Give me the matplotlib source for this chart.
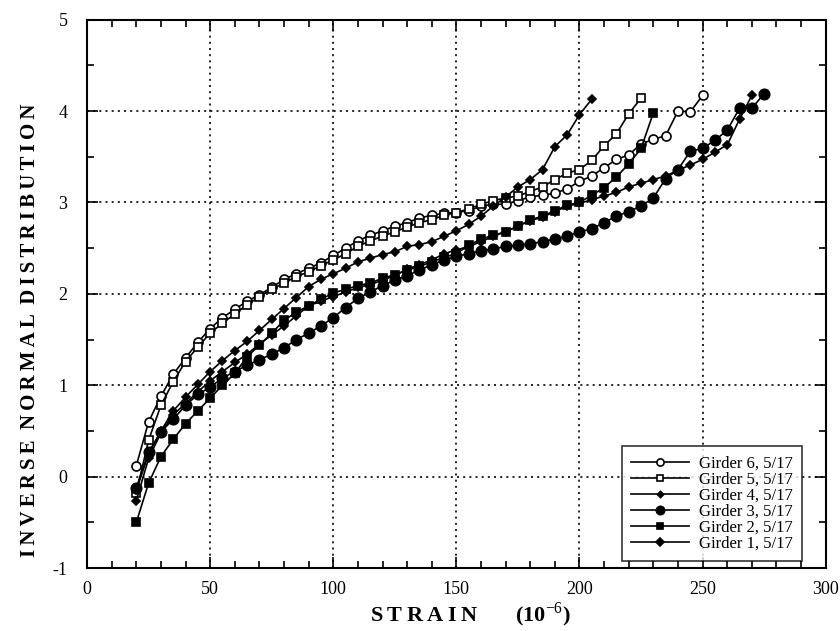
import matplotlib
matplotlib.use("Agg")
import matplotlib.pyplot as plt
import numpy as np
from matplotlib.ticker import MultipleLocator

# strain bins (10^-6), 5-unit steps starting at 20
strain_g6 = np.arange(20, 251, 5)
inv_g6 = [0.12, 0.60, 0.88, 1.12, 1.30, 1.47, 1.62, 1.74, 1.83, 1.92, 1.99,
          2.07, 2.16, 2.22, 2.28, 2.34, 2.42, 2.50, 2.58, 2.64, 2.69, 2.74,
          2.78, 2.83, 2.86, 2.88, 2.89, 2.91, 2.96, 2.98, 2.98, 3.02, 3.06,
          3.08, 3.10, 3.15, 3.23, 3.29, 3.38, 3.47, 3.52, 3.64, 3.69, 3.73,
          4.00, 3.99, 4.17]

strain_g5 = np.arange(20, 226, 5)
inv_g5 = [-0.18, 0.40, 0.78, 1.04, 1.26, 1.42, 1.57, 1.68, 1.78, 1.88, 1.97,
          2.05, 2.12, 2.19, 2.24, 2.31, 2.37, 2.44, 2.52, 2.58, 2.63, 2.68,
          2.73, 2.78, 2.81, 2.86, 2.89, 2.93, 2.98, 3.02, 3.05, 3.07, 3.12,
          3.17, 3.25, 3.32, 3.36, 3.46, 3.62, 3.75, 3.97, 4.14]

strain_g4 = np.arange(20, 206, 5)
inv_g4 = [-0.15, 0.25, 0.50, 0.72, 0.87, 1.01, 1.15, 1.27, 1.38, 1.48, 1.60,
          1.72, 1.84, 1.96, 2.08, 2.16, 2.22, 2.28, 2.35, 2.39, 2.43, 2.46,
          2.52, 2.54, 2.57, 2.63, 2.69, 2.76, 2.85, 2.96, 3.06, 3.17, 3.25,
          3.36, 3.61, 3.74, 3.96, 4.13]

strain_g3 = np.arange(20, 276, 5)
inv_g3 = [-0.12, 0.27, 0.49, 0.63, 0.78, 0.90, 0.98, 1.08, 1.15, 1.22, 1.28,
          1.34, 1.41, 1.50, 1.57, 1.65, 1.74, 1.85, 1.95, 2.02, 2.09, 2.15,
          2.20, 2.26, 2.32, 2.37, 2.41, 2.44, 2.47, 2.49, 2.52, 2.53, 2.55,
          2.57, 2.60, 2.63, 2.68, 2.71, 2.78, 2.85, 2.90, 2.96, 3.05, 3.26,
          3.36, 3.56, 3.59, 3.68, 3.79, 4.03, 4.03, 4.19]

strain_g2 = np.arange(20, 231, 5)
inv_g2 = [-0.50, -0.07, 0.22, 0.41, 0.58, 0.72, 0.86, 1.00, 1.13, 1.31, 1.44,
          1.57, 1.71, 1.80, 1.87, 1.94, 2.01, 2.05, 2.09, 2.12, 2.17, 2.21,
          2.26, 2.30, 2.35, 2.40, 2.44, 2.53, 2.60, 2.64, 2.68, 2.74, 2.81,
          2.85, 2.91, 2.97, 3.00, 3.08, 3.16, 3.28, 3.42, 3.59, 3.98]

strain_g1 = np.arange(20, 271, 5)
inv_g1 = [-0.26, 0.20, 0.48, 0.68, 0.80, 0.93, 1.05, 1.15, 1.25, 1.34, 1.45,
          1.55, 1.65, 1.76, 1.87, 1.92, 1.97, 2.02, 2.07, 2.10, 2.15, 2.20,
          2.27, 2.32, 2.37, 2.44, 2.48, 2.52, 2.57, 2.63, 2.68, 2.74, 2.80,
          2.84, 2.90, 2.96, 2.99, 3.03, 3.07, 3.11, 3.17, 3.21, 3.25, 3.29,
          3.35, 3.41, 3.47, 3.55, 3.63, 3.91, 4.17]

series = [
    ("Girder 6, 5/17", strain_g6, inv_g6, "o", 6.5, "white"),
    ("Girder 5, 5/17", strain_g5, inv_g5, "s", 5.5, "white"),
    ("Girder 4, 5/17", strain_g4, inv_g4, "D", 4.0, "black"),
    ("Girder 3, 5/17", strain_g3, inv_g3, "o", 7.5, "black"),
    ("Girder 2, 5/17", strain_g2, inv_g2, "s", 6.0, "black"),
    ("Girder 1, 5/17", strain_g1, inv_g1, "D", 4.5, "black"),
]

plt.rcParams["font.family"] = ["Liberation Serif", "DejaVu Serif"]
plt.rcParams["axes.unicode_minus"] = False
plt.rcParams["mathtext.fontset"] = "custom"
plt.rcParams["mathtext.rm"] = "Liberation Serif"
plt.rcParams["mathtext.bf"] = "Liberation Serif:bold"


def spaced(text):
    # letter-spaced caps like the original typesetting
    return "\u2009".join(text)


fig = plt.figure(figsize=(8.4, 6.31), dpi=100)
ax = fig.add_axes([0.1036, 0.0995, 0.8794, 0.8695])

for label, x, y, m, ms, fc in series:
    ax.plot(x, y, color="black", lw=1.2, marker=m, ms=ms,
            markerfacecolor=fc, markeredgecolor="black", mew=1.2,
            label=label)

ax.set_xlim(0, 300)
ax.set_ylim(-1, 5)
ax.xaxis.set_major_locator(MultipleLocator(50))
ax.xaxis.set_minor_locator(MultipleLocator(10))
ax.yaxis.set_major_locator(MultipleLocator(1))
ax.yaxis.set_minor_locator(MultipleLocator(0.5))
ax.grid(True, which="major", color="black", linestyle=(0, (1.2, 2.5)), lw=1.2)
ax.tick_params(which="both", direction="in", top=True, right=True,
               labelsize=13, width=1.2)
ax.tick_params(which="major", length=8)
ax.tick_params(axis="x", which="major", pad=9)
ax.tick_params(axis="y", which="major", pad=14)
ax.tick_params(which="minor", length=5)
for s in ax.spines.values():
    s.set_linewidth(1.5)

ax.set_xlabel(spaced("STRAIN") + "       (10$^{-6}$)", fontsize=16,
              fontweight="bold")
ax.xaxis.set_label_coords(0.519, -0.058)
ax.set_ylabel(spaced("INVERSE") + "  " + spaced("NORMAL") + "  "
              + spaced("DISTRIBUTION"), fontsize=15, fontweight="bold")
ax.yaxis.set_label_coords(-0.064, 0.434)

leg = ax.legend(loc="lower right", bbox_to_anchor=(0.968, 0.014),
                fontsize=12, frameon=True, fancybox=False, handlelength=3.5,
                labelspacing=0.0, borderpad=0.55, handletextpad=0.6,
                markerscale=0.8, borderaxespad=0)
leg.get_frame().set_edgecolor("black")
leg.get_frame().set_linewidth(1.2)

fig.savefig("out.png", dpi=100)
